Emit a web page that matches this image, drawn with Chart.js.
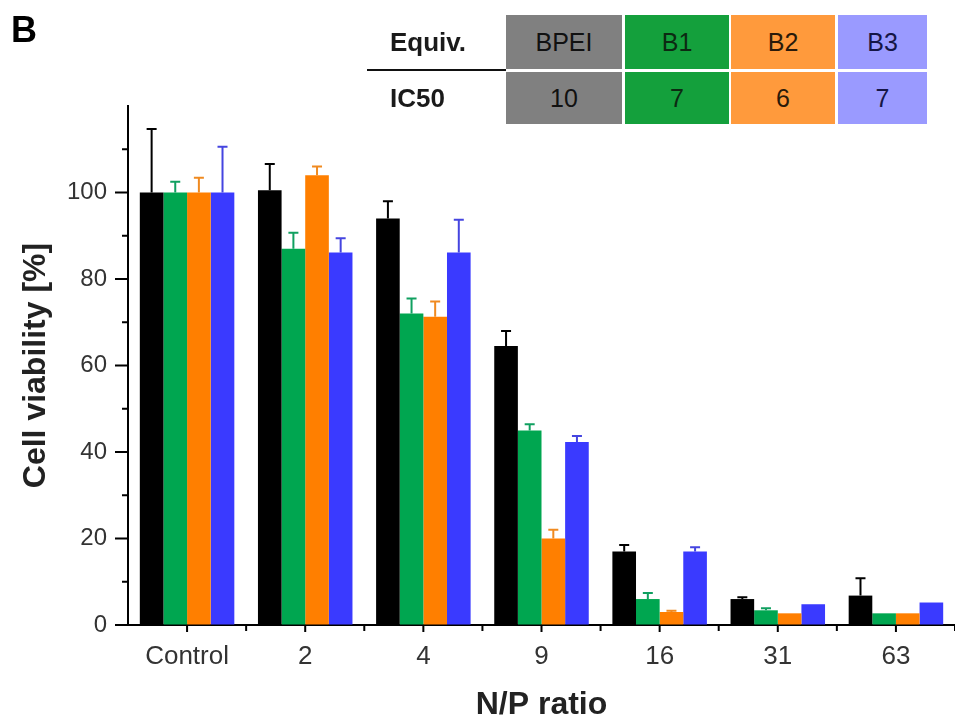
<!DOCTYPE html>
<html>
<head>
<meta charset="utf-8">
<script src="https://cdn.jsdelivr.net/npm/chart.js@4"></script>
<style>
  body { margin: 0; background: #fff; }
  #wrap { position: relative; width: 955px; height: 721px; }
  .lbl { position: absolute; font-family: 'Liberation Sans', Arial, sans-serif; }
  .cell {
    position: absolute; display: flex; align-items: center; justify-content: center;
    font-family: 'Liberation Sans', Arial, sans-serif;
    font-size: 25px; color: #1a1a1a;
  }
</style>
</head>
<body>
<div id="wrap">
  <canvas id="viabilityChart" width="955" height="721"></canvas>
  <div class="lbl" style="left:11px;top:12px;font-size:36px;font-weight:bold;line-height:36px;">B</div>
  <div id="ic50Table"></div>
</div>
<script>
// N/P ratio categories
const categories = ['Control', '2', '4', '9', '16', '31', '63'];

// cell viability (%) per polymer
const bpei = [100, 100.5, 94, 64.5, 17, 6, 6.8];
const b1 = [100, 87, 72, 45, 6, 3.4, 2.7];
const b2 = [100, 104, 71.3, 20, 3, 2.7, 2.7];
const b3 = [100, 86.1, 86.1, 42.3, 17, 4.8, 5.2];

// error bars (upper, SD)
const bpeiErr = [14.7, 6.1, 4, 3.5, 1.5, 0.4, 4];
const b1Err = [2.5, 3.7, 3.5, 1.4, 1.4, 0.5, 0];
const b2Err = [3.4, 2.0, 3.5, 2.0, 0.3, 0, 0];
const b3Err = [10.6, 3.3, 7.6, 1.4, 1.0, 0, 0];

// IC50 table
const tableHeaders = ['BPEI', 'B1', 'B2', 'B3'];
const ic50Values = ['10', '7', '6', '7'];

const yTickLabels = ['0', '20', '40', '60', '80', '100'];

// table drawn as html on top of the canvas
const tbl = document.getElementById('ic50Table');
const cols = [[506, 116, '#808080', '#111'], [625, 104, '#14a03c', '#0c2a12'], [731, 104, '#ff9a3c', '#2a1a0a'], [838, 89, '#9a9aff', '#151545']];
const rows = [[15, 54], [72, 52]];
function addCell(x, y, w, h, bg, color, text, extra) {
    const d = document.createElement('div');
    d.className = 'cell';
    d.style.cssText = `left:${x}px;top:${y}px;width:${w}px;height:${h}px;background:${bg};color:${color};` + (extra || '');
    d.textContent = text;
    tbl.appendChild(d);
}
addCell(390, rows[0][0], 110, rows[0][1], 'transparent', '#1a1a1a', 'Equiv.', 'justify-content:flex-start;font-weight:bold;font-size:26px;');
addCell(390, rows[1][0], 110, rows[1][1], 'transparent', '#1a1a1a', 'IC50', 'justify-content:flex-start;font-weight:bold;font-size:26px;');
const rule = document.createElement('div');
rule.style.cssText = 'position:absolute;left:367px;top:69px;width:139px;height:2px;background:#111;';
tbl.appendChild(rule);
tableHeaders.forEach((h, i) => {
    const c = cols[i];
    addCell(c[0], rows[0][0], c[1], rows[0][1], c[2], c[3], h);
    addCell(c[0], rows[1][0], c[1], rows[1][1], c[2], c[3], ic50Values[i]);
});

// error bars + tick marks
const errorBarPlugin = {
    id: 'errorBars',
    afterDatasetsDraw(chart) {
        const ctx = chart.ctx;
        const yScale = chart.scales.y;
        chart.data.datasets.forEach((ds, d) => {
            const meta = chart.getDatasetMeta(d);
            meta.data.forEach((bar, i) => {
                const e = ds.errors[i];
                if (!e) return;
                const yTop = yScale.getPixelForValue(ds.data[i] + e);
                ctx.save();
                ctx.strokeStyle = ds.errorColor;
                ctx.lineWidth = 2;
                ctx.beginPath();
                ctx.moveTo(bar.x, bar.y);
                ctx.lineTo(bar.x, yTop);
                ctx.moveTo(bar.x - 5, yTop);
                ctx.lineTo(bar.x + 5, yTop);
                ctx.stroke();
                ctx.restore();
            });
        });
    },
    afterDraw(chart) {
        const ctx = chart.ctx;
        const xScale = chart.scales.x;
        const yScale = chart.scales.y;
        const { left, bottom } = chart.chartArea;
        const half = (xScale.getPixelForValue(1) - xScale.getPixelForValue(0)) / 2;
        ctx.save();
        ctx.strokeStyle = '#000';
        ctx.lineWidth = 2;
        ctx.beginPath();
        ctx.moveTo(117, bottom);
        ctx.lineTo(left, bottom);
        categories.forEach((c, i) => {
            const x = xScale.getPixelForValue(i);
            ctx.moveTo(x, bottom);
            ctx.lineTo(x, bottom + 7);
            ctx.moveTo(x + half, bottom);
            ctx.lineTo(x + half, bottom + 6);
        });
        for (let v = 0; v < 120; v += 10) {
            const y = yScale.getPixelForValue(v);
            ctx.moveTo(left, y);
            ctx.lineTo(left - (v % 20 === 0 ? 13 : 6), y);
        }
        ctx.stroke();
        ctx.restore();
    }
};

const ctx = document.getElementById('viabilityChart').getContext('2d');
new Chart(ctx, {
    type: 'bar',
    data: {
        labels: categories,
        datasets: [
            { label: 'BPEI', data: bpei, errors: bpeiErr, backgroundColor: '#000000', errorColor: '#000000' },
            { label: 'B1', data: b1, errors: b1Err, backgroundColor: '#00a650', errorColor: '#10a060' },
            { label: 'B2', data: b2, errors: b2Err, backgroundColor: '#ff7f00', errorColor: '#f08a20' },
            { label: 'B3', data: b3, errors: b3Err, backgroundColor: '#3a3aff', errorColor: '#4545e0' }
        ]
    },
    options: {
        responsive: false,
        animation: false,
        devicePixelRatio: 1,
        categoryPercentage: 0.8,
        barPercentage: 1,
        layout: { padding: { top: 106, right: 0, left: 0, bottom: 0 } },
        plugins: { legend: { display: false }, tooltip: { enabled: false } },
        scales: {
            x: {
                grid: { display: false, drawTicks: false },
                border: { color: '#000', width: 2 },
                ticks: { color: '#333', padding: 16, font: { family: 'Liberation Sans', size: 26 } },
                title: {
                    display: true, text: 'N/P ratio', color: '#222',
                    font: { family: 'Liberation Sans', size: 32, weight: 'bold', lineHeight: 1 }, padding: { top: 2, bottom: 0 }
                },
                afterFit: s => { s.height = 96; }
            },
            y: {
                min: 0, max: 120,
                grid: { drawOnChartArea: false, drawTicks: false },
                border: { color: '#000', width: 2 },
                ticks: {
                    stepSize: 10, autoSkip: false, color: '#333', padding: 21,
                    font: { family: 'Liberation Sans', size: 24 },
                    callback: v => yTickLabels.includes(String(v)) ? String(v) : ''
                },
                title: {
                    display: true, text: 'Cell viability [%]', color: '#222',
                    font: { family: 'Liberation Sans', size: 32, weight: 'bold' }, padding: { top: 17, bottom: 0 }
                },
                afterFit: s => { s.width = 128; }
            }
        }
    },
    plugins: [errorBarPlugin]
});
</script>
</body>
</html>
